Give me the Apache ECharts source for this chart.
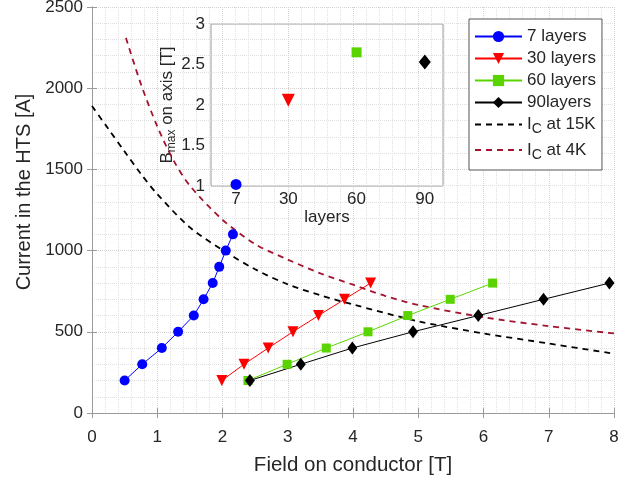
<!DOCTYPE html>
<html>
<head>
<meta charset="utf-8">
<script src="https://cdn.jsdelivr.net/npm/echarts@6/dist/echarts.min.js"></script>
<style>
  html, body { margin: 0; padding: 0; background: #fff; }
  #chart { width: 641px; height: 478px; }
</style>
</head>
<body>
<div id="chart"></div>
<script>
// current steps (same for every layer count)
const current7 = [200, 300, 400, 500, 600, 700, 800, 900, 1000, 1100];
const current30 = [200, 300, 400, 500, 600, 700, 800];

// field on conductor [T] for each current step
const field7 = [0.50, 0.77, 1.07, 1.32, 1.56, 1.71, 1.85, 1.95, 2.05, 2.16];
const field30 = [1.99, 2.33, 2.70, 3.08, 3.47, 3.87, 4.27];
const field60 = [2.39, 2.99, 3.59, 4.23, 4.84, 5.49, 6.14];
const field90 = [2.42, 3.20, 3.99, 4.92, 5.92, 6.92, 7.93];

// critical current curves
const ic15Field = [0, 0.25, 0.5, 0.75, 1, 1.5, 2, 2.5, 3, 3.5, 4, 5, 6, 7, 8];
const ic15Current = [1890, 1750, 1610, 1472, 1348, 1143, 1004, 885, 792, 725, 668, 565, 490, 428, 365];
const ic4Field = [0.52, 0.75, 1, 1.25, 1.5, 2, 2.5, 3, 3.5, 4, 4.5, 5, 6, 7, 8];
const ic4Current = [2310, 2025, 1765, 1555, 1400, 1190, 1040, 945, 860, 790, 720, 665, 590, 535, 490];

// inset: peak field on axis vs number of layers
const insetLayers = [7, 30, 60, 90];
const insetBmax = [1.02, 2.06, 2.65, 2.53];

const xTicks = [0, 1, 2, 3, 4, 5, 6, 7, 8];
const yTicks = [0, 500, 1000, 1500, 2000, 2500];

const font = "'Liberation Sans', Arial, sans-serif";
const textColor = '#262626';
const axisGrey = '#9a9a9a';

const zip = (xs, ys) => xs.map((x, i) => [x, ys[i]]);

const chart = echarts.init(document.getElementById('chart'));

const subRich = {
  n: { fontSize: 17, color: textColor, fontFamily: font },
  s: { fontSize: 14, color: textColor, fontFamily: font, padding: [10, 0, 0, 0] },
};

const mainLine = (name, xs, ys, color, symbol, size, rotate) => ({
  name: name,
  type: 'line',
  xAxisIndex: 0,
  yAxisIndex: 0,
  data: zip(xs, ys),
  symbol: symbol,
  symbolSize: size,
  symbolRotate: rotate || 0,
  showSymbol: true,
  lineStyle: { width: 1, color: color },
  itemStyle: { color: color },
  z: 3,
});

const dashLine = (name, xs, ys, color) => ({
  name: name,
  type: 'line',
  xAxisIndex: 0,
  yAxisIndex: 0,
  data: zip(xs, ys),
  symbol: 'none',
  smooth: 0.3,
  lineStyle: { width: 1.8, color: color, type: [6, 5] },
  itemStyle: { color: color },
  z: 2,
});

const insetPoint = (i, color, symbol, size, rotate) => ({
  type: 'scatter',
  xAxisIndex: 2,
  yAxisIndex: 2,
  data: [[insetLayers[i], insetBmax[i]]],
  symbol: symbol,
  symbolSize: size,
  symbolRotate: rotate || 0,
  itemStyle: { color: color, opacity: 1 },
  z: 5,
});

const gridLines = {
  splitLine: { show: true, lineStyle: { color: '#d4d4d4', type: 'dotted' } },
  minorTick: { show: true, splitNumber: 5, length: 0, lineStyle: { opacity: 0 } },
  minorSplitLine: { show: true, lineStyle: { color: '#e0e0e0', type: 'dotted' } },
};

const option = {
  animation: false,
  textStyle: { fontFamily: font },
  grid: [
    { left: 92, top: 7, width: 522, height: 406, outerBoundsMode: 'none', containLabel: false },
    { left: 211, top: 24, width: 232, height: 162, outerBoundsMode: 'none', containLabel: false, show: true, borderColor: axisGrey, borderWidth: 1, backgroundColor: 'transparent' },
  ],
  legend: {
    orient: 'vertical',
    left: 469,
    top: 19,
    padding: [9, 6, 8, 5],
    itemWidth: 47,
    itemHeight: 14,
    itemGap: 5,
    backgroundColor: '#fff',
    borderColor: '#555',
    borderWidth: 1,
    selectedMode: false,
    data: [
      '7 layers', '30 layers', '60 layers', '90layers',
      { name: 'IC at 15K', itemStyle: { opacity: 0 } },
      { name: 'IC at 4K', itemStyle: { opacity: 0 } },
    ],
    formatter: (name) => name.startsWith('IC') ? '{n|I}{s|C}{n|' + name.slice(2) + '}' : name,
    textStyle: { fontSize: 17, color: textColor, fontFamily: font, rich: subRich },
  },
  xAxis: [
    Object.assign({
      gridIndex: 0, type: 'value', min: 0, max: 8, interval: 1,
      name: 'Field on conductor [T]', nameLocation: 'middle', nameGap: 42,
      nameTextStyle: { fontSize: 20.5, color: textColor, fontFamily: font },
      axisLine: { show: true, lineStyle: { color: axisGrey } },
      axisTick: { inside: true, length: 5, lineStyle: { color: axisGrey } },
      axisLabel: { fontSize: 17, color: textColor, margin: 16, customValues: xTicks },
    }, gridLines),
    {
      gridIndex: 0, type: 'value', min: 0, max: 8, interval: 1, position: 'top',
      axisLine: { show: true, lineStyle: { color: axisGrey } },
      axisTick: { inside: true, length: 5, lineStyle: { color: axisGrey } },
      axisLabel: { show: false },
      splitLine: { show: false },
    },
    {
      gridIndex: 1, type: 'value', min: -4, max: 98,
      name: 'layers', nameLocation: 'middle', nameGap: 15,
      nameTextStyle: { fontSize: 17, color: textColor, fontFamily: font },
      axisLine: { show: false },
      axisTick: { show: false },
      axisLabel: { fontSize: 17, color: textColor, margin: 5, customValues: insetLayers },
      splitLine: { show: false },
    },
  ],
  yAxis: [
    Object.assign({
      gridIndex: 0, type: 'value', min: 0, max: 2500, interval: 500,
      name: 'Current in the HTS [A]', nameLocation: 'middle', nameGap: 57,
      nameTextStyle: { fontSize: 20, color: textColor, fontFamily: font, padding: [0, 0, 0, 36] },
      axisLine: { show: true, lineStyle: { color: axisGrey } },
      axisTick: { inside: true, length: 5, lineStyle: { color: axisGrey } },
      axisLabel: { fontSize: 17, color: textColor, margin: 9, customValues: yTicks, formatter: (v) => String(v) },
    }, gridLines),
    {
      gridIndex: 0, type: 'value', min: 0, max: 2500, interval: 500, position: 'right',
      axisLine: { show: true, lineStyle: { color: axisGrey } },
      axisTick: { inside: true, length: 5, lineStyle: { color: axisGrey } },
      axisLabel: { show: false },
      splitLine: { show: false },
    },
    {
      gridIndex: 1, type: 'value', min: 1, max: 3, interval: 0.5,
      name: '{n|B}{s|max}{n| on axis [T]}', nameLocation: 'middle', nameGap: 30,
      nameTextStyle: { rich: {
        n: { fontSize: 17, color: textColor, fontFamily: font },
        s: { fontSize: 12, color: textColor, fontFamily: font, padding: [9, 0, 0, 0] },
      } },
      axisLine: { show: false },
      axisTick: { show: false },
      axisLabel: { fontSize: 17, color: textColor, margin: 6 },
      splitLine: { show: false },
    },
  ],
  series: [
    mainLine('7 layers', field7, current7, '#0000ff', 'circle', 10),
    mainLine('30 layers', field30, current30, '#ff0000', 'triangle', 11, 180),
    mainLine('60 layers', field60, current30, '#5ad400', 'rect', 9),
    mainLine('90layers', field90, current30, '#000000', 'diamond', [10, 13]),
    dashLine('IC at 15K', ic15Field, ic15Current, '#000000'),
    dashLine('IC at 4K', ic4Field, ic4Current, '#a2142f'),
    insetPoint(0, '#0000ff', 'circle', 11),
    insetPoint(1, '#ff0000', 'triangle', 13, 180),
    insetPoint(2, '#5ad400', 'rect', 10),
    insetPoint(3, '#000000', 'diamond', [12, 15]),
  ],
};

chart.setOption(option);
</script>
</body>
</html>
